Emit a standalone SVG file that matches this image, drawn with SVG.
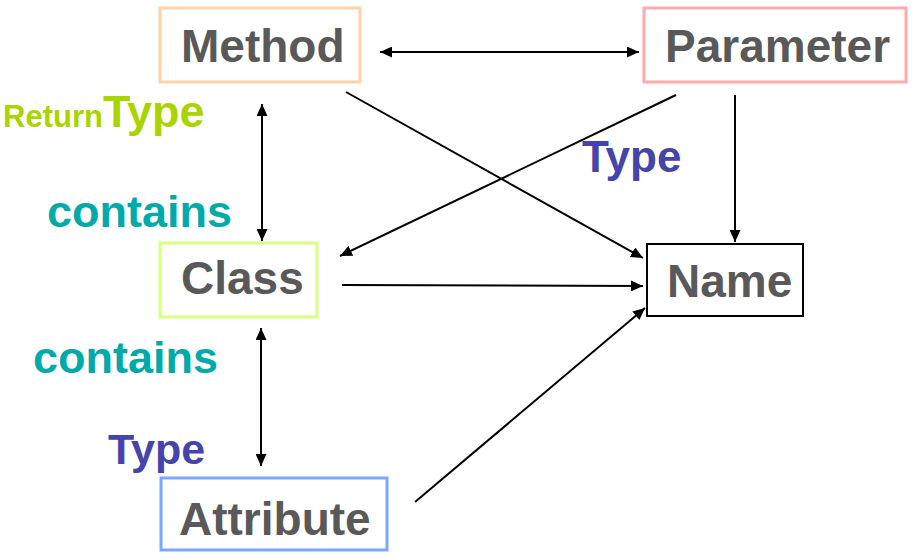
<svg xmlns="http://www.w3.org/2000/svg" width="914" height="559" viewBox="0 0 914 559">
<defs>
<marker id="ah" viewBox="0 0 12 11" refX="12" refY="5.5" markerWidth="12" markerHeight="11" markerUnits="userSpaceOnUse" orient="auto-start-reverse">
<path d="M0,0 L12,5.5 L0,11 Z" fill="#000"/>
</marker>
</defs>
<style>
.box{fill:#fff;stroke-width:3}
.nt{font-family:"Liberation Sans",Arial,sans-serif;font-weight:bold;font-size:46px;fill:#595959}
.lb{font-family:"Liberation Sans",Arial,sans-serif;font-weight:bold}
.c{stroke:#000;stroke-width:2;fill:none}
</style>
<rect width="914" height="559" fill="#fff"/>
<g id="method"><rect class="box" x="160" y="8" width="200" height="74" stroke="#FFD3A8"/><text class="nt" x="181" y="62">Method</text></g>
<g id="parameter"><rect class="box" x="644" y="8" width="262" height="74" stroke="#FFAAAA"/><text class="nt" x="665" y="62">Parameter</text></g>
<g id="class"><rect class="box" x="160" y="243" width="157" height="74" stroke="#D8FF80"/><text class="nt" x="181" y="294">Class</text></g>
<g id="name"><rect x="647" y="244" width="156" height="72" fill="#fff" stroke="#000" stroke-width="2"/><text class="nt" x="667" y="297">Name</text></g>
<g id="attribute"><rect class="box" x="161" y="478" width="226" height="72" stroke="#77AAFF"/><text class="nt" x="179" y="535">Attribute</text></g>
<g id="labels">
<text class="lb" x="3" y="127" fill="#AAD400"><tspan font-size="31">Return</tspan><tspan font-size="45">Type</tspan></text>
<text class="lb" x="47" y="227" font-size="45" fill="#00AAAA">contains</text>
<text class="lb" x="33" y="373" font-size="45" fill="#00AAAA">contains</text>
<text class="lb" x="108" y="464" font-size="43" fill="#4444AA">Type</text>
<text class="lb" x="582" y="172" font-size="44" fill="#4444AA">Type</text>
</g>
<g id="connectors">
<line class="c" x1="380" y1="52" x2="639" y2="52" marker-start="url(#ah)" marker-end="url(#ah)"/>
<line class="c" x1="262" y1="104" x2="262" y2="241" marker-start="url(#ah)" marker-end="url(#ah)"/>
<line class="c" x1="261" y1="328" x2="261" y2="466" marker-start="url(#ah)" marker-end="url(#ah)"/>
<line class="c" x1="346" y1="92" x2="643" y2="258" marker-end="url(#ah)"/>
<line class="c" x1="676" y1="95" x2="340" y2="256" marker-end="url(#ah)"/>
<line class="c" x1="735" y1="95" x2="735" y2="242" marker-end="url(#ah)"/>
<line class="c" x1="342" y1="285" x2="643" y2="286" marker-end="url(#ah)"/>
<line class="c" x1="415" y1="502" x2="645" y2="308" marker-end="url(#ah)"/>
</g>
</svg>
